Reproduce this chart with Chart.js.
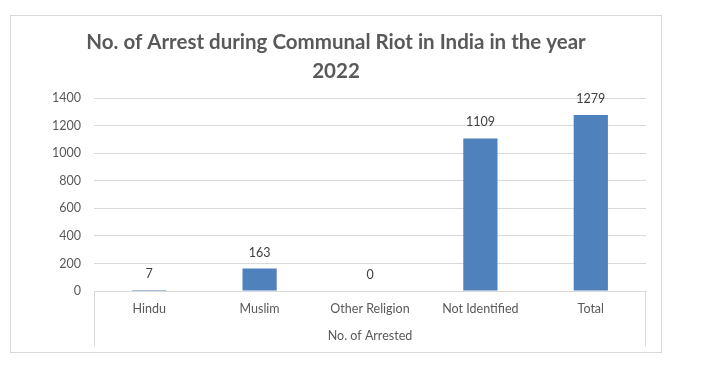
<!DOCTYPE html>
<html>
<head>
<meta charset="utf-8">
<title>No. of Arrest during Communal Riot in India 2022</title>
<script src="https://cdn.jsdelivr.net/npm/chart.js@4/dist/chart.umd.min.js"></script>
<style>
  html, body { margin: 0; padding: 0; background: #ffffff; }
  #wrap { width: 728px; height: 372px; }
</style>
</head>
<body>
<div id="wrap"><canvas id="arrestChart" width="728" height="372"></canvas></div>
<script>
const categories = ["Hindu", "Muslim", "Other Religion", "Not Identified", "Total"];
const arrested = [7, 163, 0, 1109, 1279];
const yTicks = [0, 200, 400, 600, 800, 1000, 1200, 1400];
const titleLines = ["No. of Arrest during Communal Riot in India in the year", "2022"];
const groupLabel = "No. of Arrested";

const FONT = "Lato, 'Liberation Sans', sans-serif";

// outer frame like the Excel chart area
const framePlugin = {
    id: "frame",
    beforeDraw(chart) {
        const ctx = chart.ctx;
        ctx.save();
        ctx.fillStyle = "#ffffff";
        ctx.fillRect(0, 0, chart.width, chart.height);
        ctx.strokeStyle = "#d9d9d9";
        ctx.lineWidth = 1;
        ctx.strokeRect(10.5, 15.5, 651, 337);
        ctx.restore();
    },
    afterDraw(chart) {
        // side lines of the category box below the plot
        const ctx = chart.ctx;
        const area = chart.chartArea;
        const x = chart.scales.x;
        ctx.save();
        ctx.strokeStyle = "#d9d9d9";
        ctx.lineWidth = 1;
        ctx.beginPath();
        ctx.moveTo(Math.round(area.left) + 0.5, area.bottom);
        ctx.lineTo(Math.round(area.left) + 0.5, x.bottom);
        ctx.moveTo(Math.round(area.right) - 0.5, area.bottom);
        ctx.lineTo(Math.round(area.right) - 0.5, x.bottom);
        ctx.stroke();
        ctx.restore();
    }
};

// value labels above bars
const valueLabels = {
    id: "valueLabels",
    afterDatasetsDraw(chart) {
        const ctx = chart.ctx;
        const meta = chart.getDatasetMeta(0);
        ctx.save();
        ctx.font = "12.5px " + FONT;
        ctx.fillStyle = "#404040";
        ctx.textAlign = "center";
        ctx.textBaseline = "middle";
        meta.data.forEach((bar, i) => {
            ctx.fillText(String(arrested[i]), bar.x, bar.y - 16);
        });
        ctx.restore();
    }
};

new Chart(document.getElementById("arrestChart"), {
    type: "bar",
    data: {
        labels: categories,
        datasets: [{
            label: groupLabel,
            data: arrested,
            backgroundColor: "#4f81bd",
            borderWidth: 0,
            barPercentage: 0.31,
            categoryPercentage: 1
        }]
    },
    options: {
        responsive: false,
        animation: false,
        layout: {
            padding: { top: 14, left: 26, right: 82, bottom: 26 }
        },
        plugins: {
            legend: { display: false },
            tooltip: { enabled: false },
            title: {
                display: true,
                text: titleLines,
                color: "#595959",
                font: { family: FONT, size: 20.5, weight: "bold", lineHeight: 1.4 },
                padding: { top: 14, bottom: 13 }
            }
        },
        scales: {
            y: {
                min: 0,
                max: 1400,
                afterBuildTicks(scale) {
                    scale.ticks = yTicks.map(v => ({ value: v }));
                },
                afterFit(scale) {
                    scale.width = 68;
                },
                grid: { color: "#d9d9d9", drawTicks: false },
                border: { display: false },
                ticks: {
                    color: "#595959",
                    font: { family: FONT, size: 12.5 },
                    padding: 13,
                    callback: v => String(v)
                }
            },
            x: {
                afterFit(scale) {
                    scale.height = 55;
                },
                grid: { display: false, drawTicks: false },
                border: { display: true, color: "#d9d9d9" },
                ticks: {
                    color: "#595959",
                    font: { family: FONT, size: 12.5 },
                    padding: 10,
                    maxRotation: 0
                },
                title: {
                    display: true,
                    text: groupLabel,
                    color: "#595959",
                    font: { family: FONT, size: 12.5 },
                    padding: { top: 0, bottom: 3 }
                }
            }
        }
    },
    plugins: [framePlugin, valueLabels]
});
</script>
</body>
</html>
